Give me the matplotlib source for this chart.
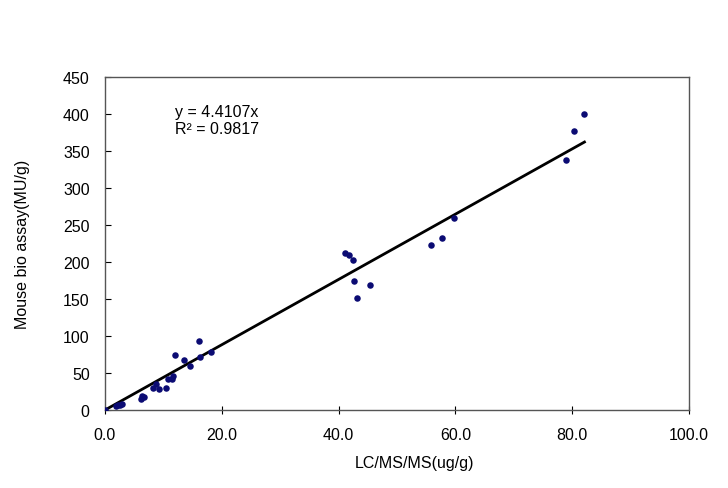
import numpy as np
import matplotlib.pyplot as plt

plt.rcParams['font.family'] = ['Liberation Sans', 'DejaVu Sans']

# LC/MS/MS (ug/g) vs mouse bio assay (MU/g)
lcms = [0.0, 1.8, 2.2, 2.5, 2.9, 6.1, 6.3, 6.6, 8.3, 8.8, 9.2, 10.4, 10.8,
        11.4, 11.6, 12.0, 13.5, 14.6, 16.1, 16.2, 18.2,
        41.1, 41.8, 42.4, 42.7, 43.1, 45.3,
        55.8, 57.7, 59.8, 79.0, 80.3, 82.1]
mba = [0, 5, 7, 6.5, 8, 15, 19, 17, 30, 35, 28, 30, 42,
       42, 46, 75, 67, 60, 93, 72, 79,
       212, 209.5, 203, 174, 152, 169,
       223, 233, 260, 338, 377, 400]

slope = 4.4107
r2 = 0.9817

xticks = [0, 20, 40, 60, 80, 100]
yticks = [0, 50, 100, 150, 200, 250, 300, 350, 400, 450]

fig = plt.figure(figsize=(7.28, 4.89), dpi=100)
ax = fig.add_axes([105 / 728, 1 - 411 / 489, 584 / 728, 333 / 489])

ax.scatter(lcms, mba, s=22, color='#0b0b73', zorder=3, linewidths=0)
xl = np.array([0, max(lcms)])
ax.plot(xl, slope * xl, color='black', lw=2, zorder=2)

ax.set_xlim(0, 100)
ax.set_ylim(0, 450)
ax.set_xticks(xticks)
ax.set_xticklabels([f"{v:.1f}" for v in xticks])
ax.set_yticks(yticks)
ax.tick_params(axis='x', direction='inout', length=6, width=0.8, labelsize=11.5, pad=9)
ax.tick_params(axis='y', direction='in', length=4, width=0.8, labelsize=11.5, pad=11)
for s in ax.spines.values():
    s.set_color('#555555')
    s.set_linewidth(1.0)

ax.set_xlabel("LC/MS/MS(ug/g)", fontsize=11.5)
ax.xaxis.set_label_coords(0.53, -0.135)
ax.set_ylabel("Mouse bio assay(MU/g)", fontsize=11.5)
ax.yaxis.set_label_coords(-0.128, 0.5)

ax.text(12.0, 392, f"y = {slope}x\nR\u00b2 = {r2}", fontsize=11.5,
        va='center', ha='left', linespacing=1.2)

fig.savefig("out.png", dpi=100)
